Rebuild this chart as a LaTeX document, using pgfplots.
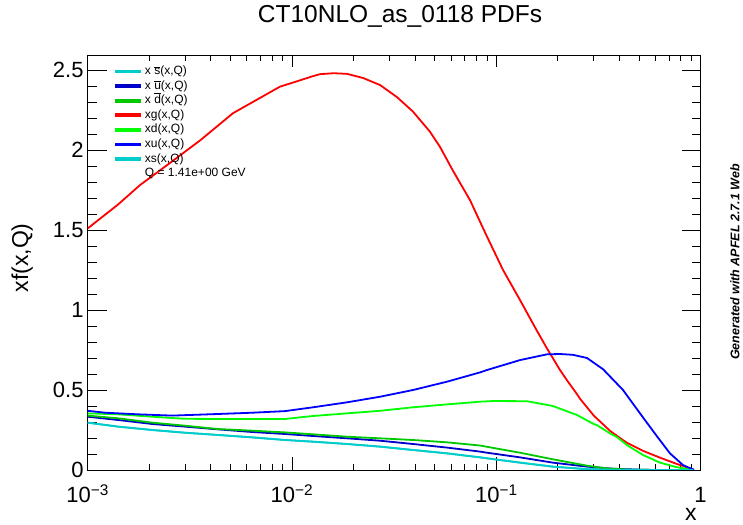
\documentclass[border=0pt]{standalone}
\usepackage{fontspec}
\setmainfont{Liberation Sans}
\usepackage{pgfplots}
\pgfplotsset{compat=1.18}
\definecolor{cyanR}{RGB}{0,204,204}
\definecolor{ubarB}{RGB}{0,0,204}
\definecolor{uB}{RGB}{0,0,255}
\definecolor{dbarG}{RGB}{0,200,0}
\definecolor{dG}{RGB}{0,255,0}
\definecolor{gR}{RGB}{255,0,0}
\begin{document}
\begin{tikzpicture}[x=1bp,y=1bp]
\useasboundingbox (0,0) rectangle (743,525);
\begin{axis}[
  at={(87.7bp,55bp)}, anchor=south west,
  scale only axis, width=612.9bp, height=415bp,
  xmode=log, xmin=1e-3, xmax=1, ymin=0, ymax=2.594,
  xtick={1e-3,1e-2,1e-1,1},
  xticklabels={10\textsuperscript{−3},10\textsuperscript{−2},10\textsuperscript{−1},1},
  ytick={0,0.5,1,1.5,2,2.5},
  yticklabels={0,0.5,1,1.5,2,2.5},
  minor y tick num=4,
  tick align=inside,
  major tick length=19bp, minor tick length=9bp,
  every x tick/.append style={/pgfplots/major tick length=12.5bp,/pgfplots/minor tick length=6bp},
  axis line style={line width=0.8bp},
  every tick/.style={black, line width=0.8bp},
  tick label style={font=\fontsize{22bp}{26bp}\selectfont},
  y tick label style={inner sep=0pt, xshift=-4bp},
  x tick label style={inner sep=0pt, anchor=base, yshift=-33bp},
  xlabel={x},
  xlabel style={at={(axis description cs:0.984,-0.106)}, anchor=center, inner sep=0pt, font=\fontsize{23bp}{27bp}\selectfont},
  ylabel={xf(x,Q)},
  ylabel style={at={(axis description cs:-0.107,0.511)}, anchor=center, rotate=0, inner sep=0pt, font=\fontsize{23bp}{27bp}\selectfont},
  title={CT10NLO\_as\_0118 PDFs},
  title style={at={(axis description cs:0.5096,1.0795)}, anchor=center, inner sep=0pt, font=\fontsize{24.5bp}{28bp}\selectfont},
  legend cell align=left,
  legend style={draw=none, fill=none, at={(axis description cs:0.0445,0.975)}, anchor=north west,
    font=\fontsize{12bp}{14bp}\selectfont, inner sep=0pt, row sep=2.6bp, column sep=4bp,
    nodes={inner sep=0pt, text height=9bp, text depth=3bp}},
  legend image code/.code={\fill[#1] (0bp,-1bp) rectangle (24bp,1bp);},
  every axis plot/.append style={line width=1.8bp},
]
% xsbar
\addplot[cyanR, forget plot] coordinates {
(0.001,0.296)(0.00141,0.271)(0.00207,0.25)(0.00299,0.233)(0.00434,0.219)(0.00637,0.204)
(0.00924,0.1875)(0.01268,0.177)(0.0186,0.1625)(0.0270,0.146)(0.0391,0.125)(0.0574,0.104)
(0.0832,0.079)(0.0901,0.073)(0.1306,0.046)(0.189,0.021)(0.278,0.005)(0.4,0.001)(0.92,0.0)};
% xubar
\addplot[ubarB, forget plot] coordinates {
(0.001,0.333)(0.00141,0.3125)(0.00207,0.2875)(0.00299,0.271)(0.00434,0.254)(0.00637,0.2375)
(0.00924,0.225)(0.01268,0.2125)(0.0186,0.198)(0.0270,0.183)(0.0391,0.1625)(0.0574,0.14)
(0.0832,0.115)(0.0901,0.108)(0.1306,0.079)(0.189,0.046)(0.278,0.021)(0.373,0.008)(0.5,0.002)(0.6,0.0)};
% xdbar
\addplot[dbarG, forget plot] coordinates {
(0.001,0.34)(0.00141,0.323)(0.00207,0.296)(0.00299,0.277)(0.00434,0.256)(0.00637,0.246)
(0.00924,0.235)(0.01268,0.223)(0.0186,0.208)(0.0270,0.198)(0.0391,0.1875)(0.0574,0.173)
(0.0832,0.153)(0.0901,0.145)(0.1306,0.108)(0.189,0.067)(0.278,0.027)(0.348,0.01)(0.45,0.002)(0.6,0.0)};
% xg
\addplot[gR, forget plot] coordinates {
(0.001,1.51)(0.00141,1.66)(0.0018,1.78)(0.00245,1.906)(0.00355,2.06)(0.00514,2.23)
(0.00873,2.396)(0.0106,2.43)(0.01268,2.462)(0.0137,2.474)(0.0160,2.48)(0.0186,2.476)(0.0223,2.45)
(0.0270,2.406)(0.0327,2.33)(0.0391,2.24)(0.0473,2.115)(0.0530,2.02)(0.0614,1.87)
(0.0743,1.6875)(0.0901,1.458)(0.1079,1.25)(0.1306,1.0625)(0.1581,0.87)(0.177,0.76)
(0.189,0.70)(0.205,0.625)(0.222,0.56)(0.248,0.475)(0.257,0.445)(0.30,0.34)
(0.360,0.245)(0.403,0.2)(0.436,0.17)(0.522,0.12)(0.633,0.077)(0.766,0.0375)
(0.887,0.01)(0.92,0.003)};
% xd
\addplot[dG, forget plot] coordinates {
(0.001,0.354)(0.00141,0.348)(0.00207,0.333)(0.00299,0.32)(0.00434,0.319)(0.00924,0.319)
(0.01268,0.3375)(0.0186,0.354)(0.0270,0.37)(0.0391,0.392)(0.0574,0.41)(0.0832,0.427)
(0.0964,0.431)(0.1413,0.43)(0.189,0.40)(0.248,0.344)(0.297,0.29)(0.311,0.28)(0.360,0.229)
(0.39,0.205)(0.436,0.156)(0.522,0.094)(0.633,0.046)(0.766,0.017)(0.887,0.004)(0.92,0.001)};
% xu
\addplot[uB, forget plot] coordinates {
(0.001,0.37)(0.00122,0.358)(0.00176,0.348)(0.00259,0.340)(0.00434,0.350)(0.00637,0.358)
(0.00924,0.368)(0.01268,0.392)(0.0186,0.423)(0.0270,0.458)(0.0391,0.50)(0.0574,0.552)
(0.0832,0.610)(0.0901,0.625)(0.1306,0.687)(0.177,0.723)(0.205,0.725)(0.237,0.72)
(0.278,0.70)(0.333,0.63)(0.417,0.50)(0.505,0.354)(0.612,0.21)(0.708,0.104)(0.820,0.031)
(0.907,0.006)(0.93,0.002)};
% xs
\addplot[cyanR, forget plot] coordinates {
(0.001,0.296)(0.00141,0.271)(0.00207,0.25)(0.00299,0.233)(0.00434,0.219)(0.00637,0.204)
(0.00924,0.1875)(0.01268,0.177)(0.0186,0.1625)(0.0270,0.146)(0.0391,0.125)(0.0574,0.104)
(0.0832,0.079)(0.0901,0.073)(0.1306,0.046)(0.189,0.021)(0.278,0.005)(0.4,0.001)(0.92,0.0)};
\addlegendimage{cyanR}
\addlegendentry{x $\overline{\mbox{s}}$(x,Q)}
\addlegendimage{ubarB}
\addlegendentry{x $\overline{\mbox{u}}$(x,Q)}
\addlegendimage{dbarG}
\addlegendentry{x $\overline{\mbox{d}}$(x,Q)}
\addlegendimage{gR}
\addlegendentry{xg(x,Q)}
\addlegendimage{dG}
\addlegendentry{xd(x,Q)}
\addlegendimage{uB}
\addlegendentry{xu(x,Q)}
\addlegendimage{cyanR}
\addlegendentry{xs(x,Q)}
\addlegendimage{empty legend}
\addlegendentry{Q = 1.41e+00 GeV}
\end{axis}
\node[rotate=90, anchor=center, inner sep=0pt, font=\fontsize{12.5bp}{15bp}\selectfont\bfseries\itshape]
  at (735,263) {Generated with APFEL 2.7.1 Web};
\end{tikzpicture}
\end{document}
